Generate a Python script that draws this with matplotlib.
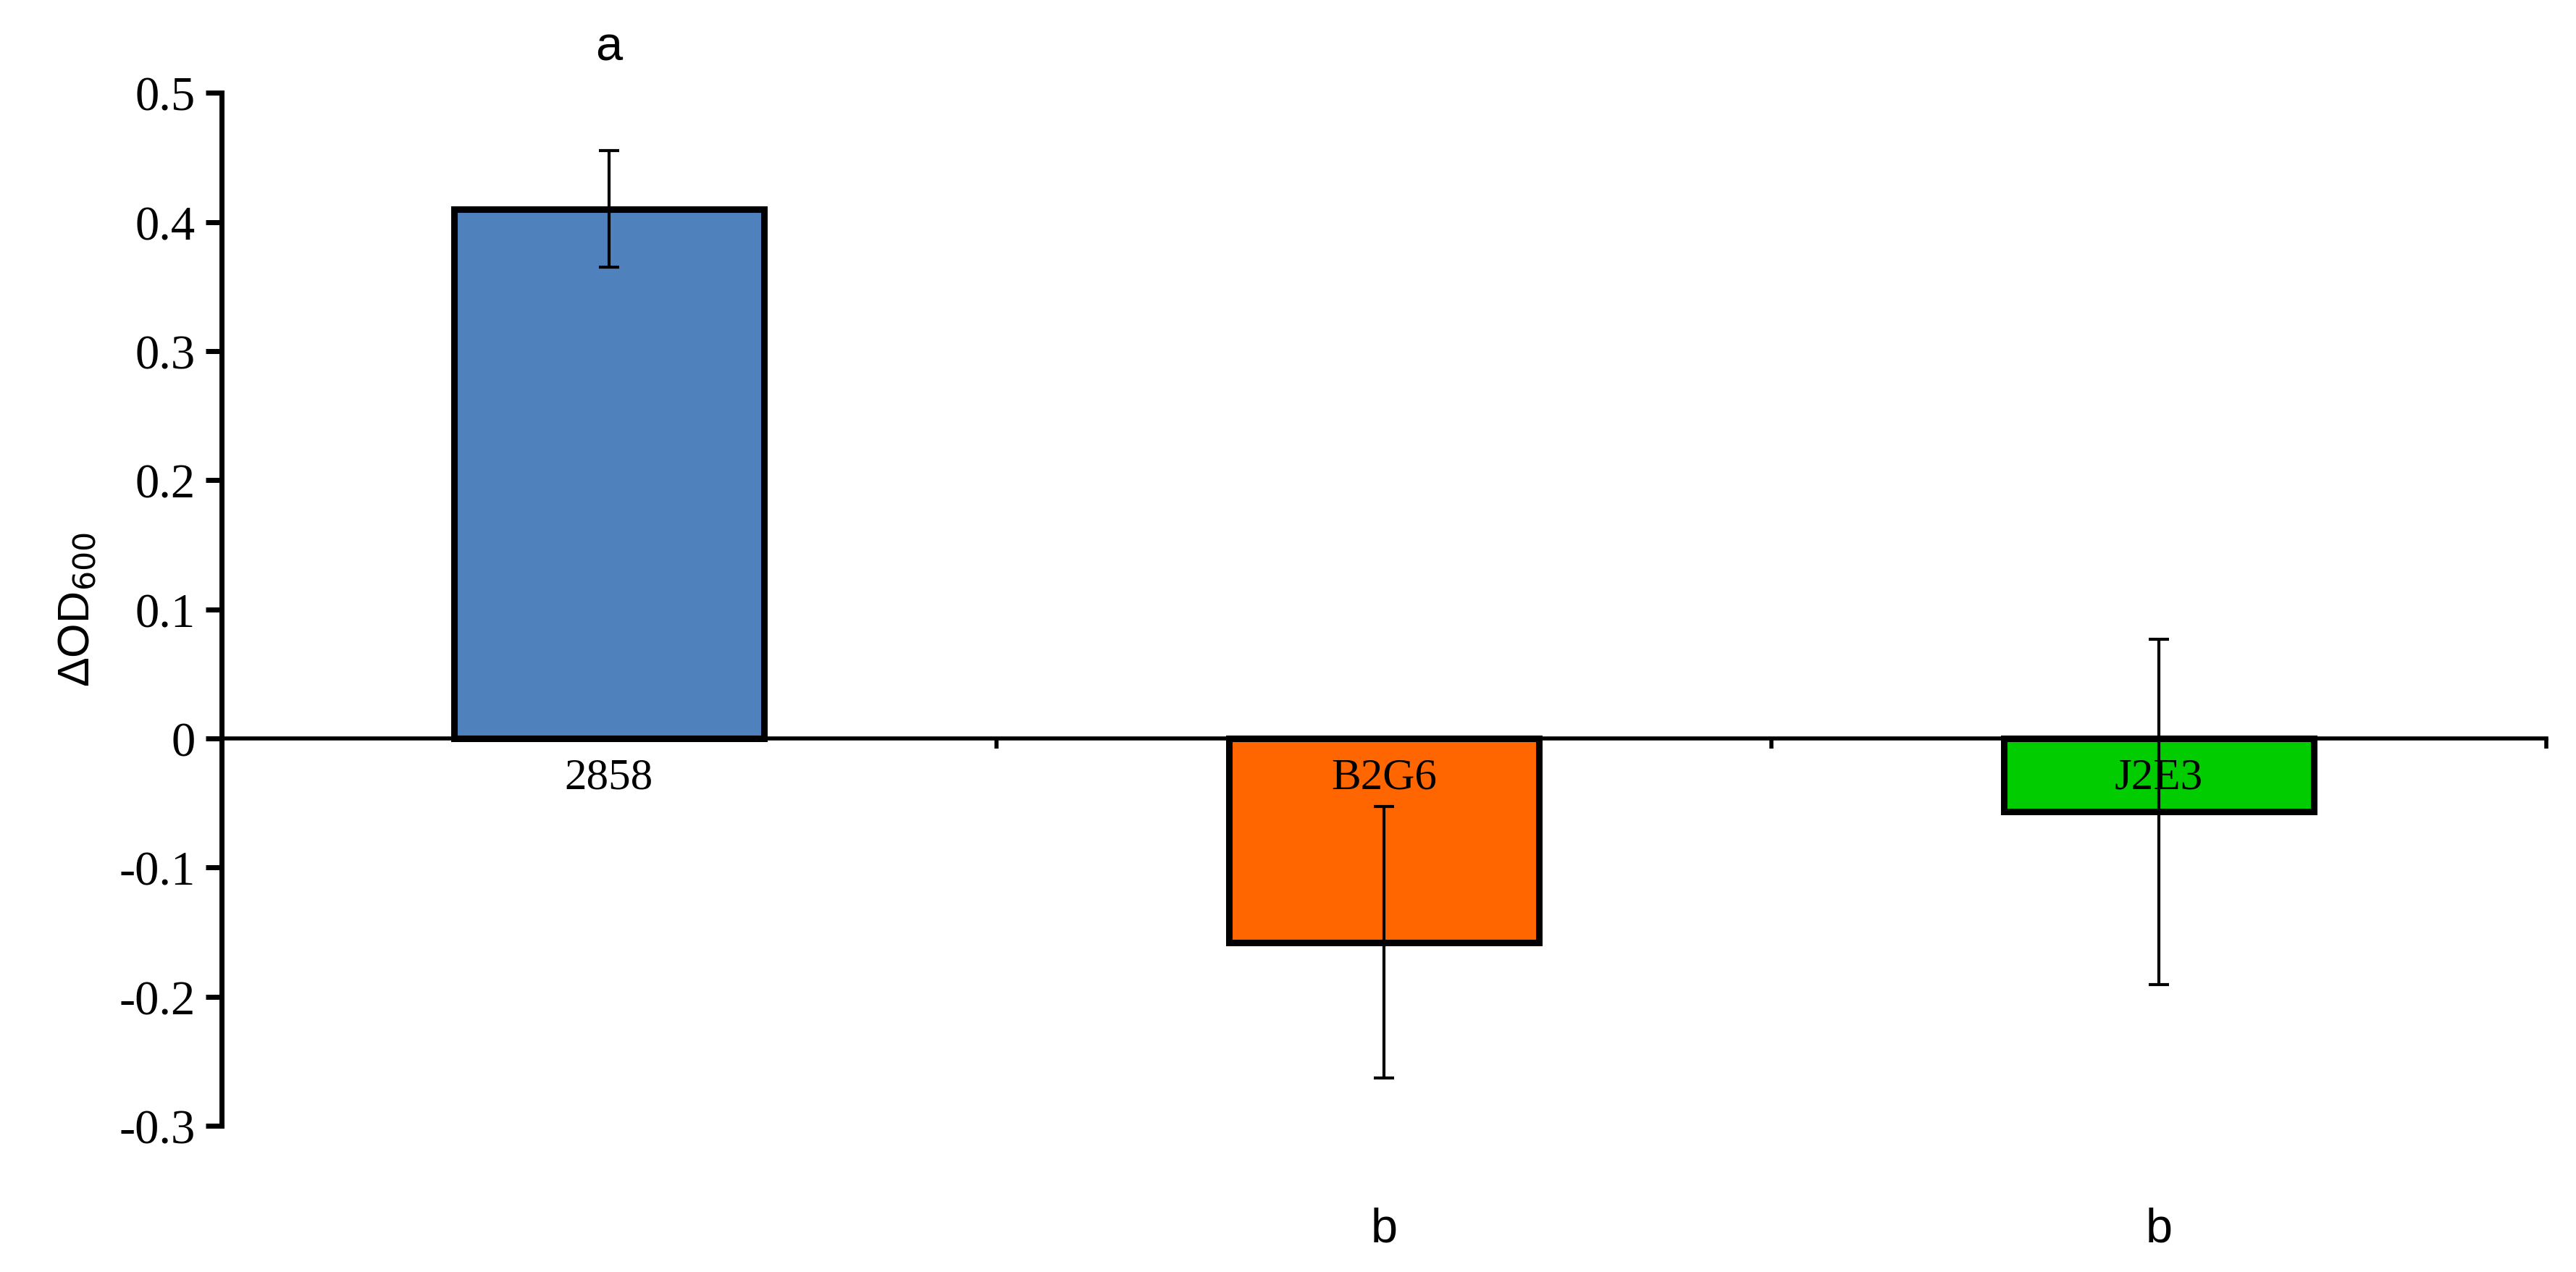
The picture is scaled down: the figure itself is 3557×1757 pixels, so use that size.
import matplotlib
matplotlib.use("Agg")
import matplotlib.pyplot as plt

categories = ["2858", "B2G6", "J2E3"]
values = [0.41, -0.158, -0.057]
errors = [0.045, 0.105, 0.134]
letters = ["a", "b", "b"]
letter_y = [0.535, -0.38, -0.38]
colors = ["#4f81bd", "#ff6600", "#00cc00"]
yticks = [-0.3, -0.2, -0.1, 0, 0.1, 0.2, 0.3, 0.4, 0.5]

fig = plt.figure(figsize=(35.57, 17.58), dpi=100)
ax = fig.add_axes([0.086, 0.115, 0.9025, 0.8115])
x = list(range(len(categories)))
ax.bar(x, values, width=0.4, color=colors, edgecolor="black", linewidth=6.5, zorder=2)
ax.errorbar(x, values, yerr=errors, fmt="none", ecolor="black", elinewidth=3, capsize=10, capthick=3, zorder=3)
ax.set_xlim(-0.5, 2.5)
ax.set_ylim(-0.3, 0.5)
for s in ["top", "right"]:
    ax.spines[s].set_visible(False)
ax.spines["bottom"].set_position(("data", 0))
ax.spines["bottom"].set_linewidth(4)
ax.spines["left"].set_linewidth(5)
ax.set_xticks([0.5, 1.5, 2.5])
ax.set_xticklabels([])
ax.tick_params(axis="x", direction="out", length=10, width=4)
ax.set_yticks(yticks)
ax.set_yticklabels([f"{t:g}" for t in yticks], fontfamily="Liberation Serif", fontsize=48)
ax.tick_params(axis="y", direction="out", length=16, width=5, pad=10)
for xi, c in zip(x, categories):
    ax.text(xi, -0.03, c, ha="center", va="center", fontfamily="Liberation Serif", fontsize=44, zorder=4)
for xi, l, ly in zip(x, letters, letter_y):
    ax.text(xi, ly, l, ha="center", va="center", fontfamily="Liberation Sans", fontsize=48, clip_on=False)
ax.set_ylabel("ΔOD$_{600}$", fontfamily="Liberation Sans", fontsize=44, labelpad=20)
fig.savefig("out.png", dpi=100)
